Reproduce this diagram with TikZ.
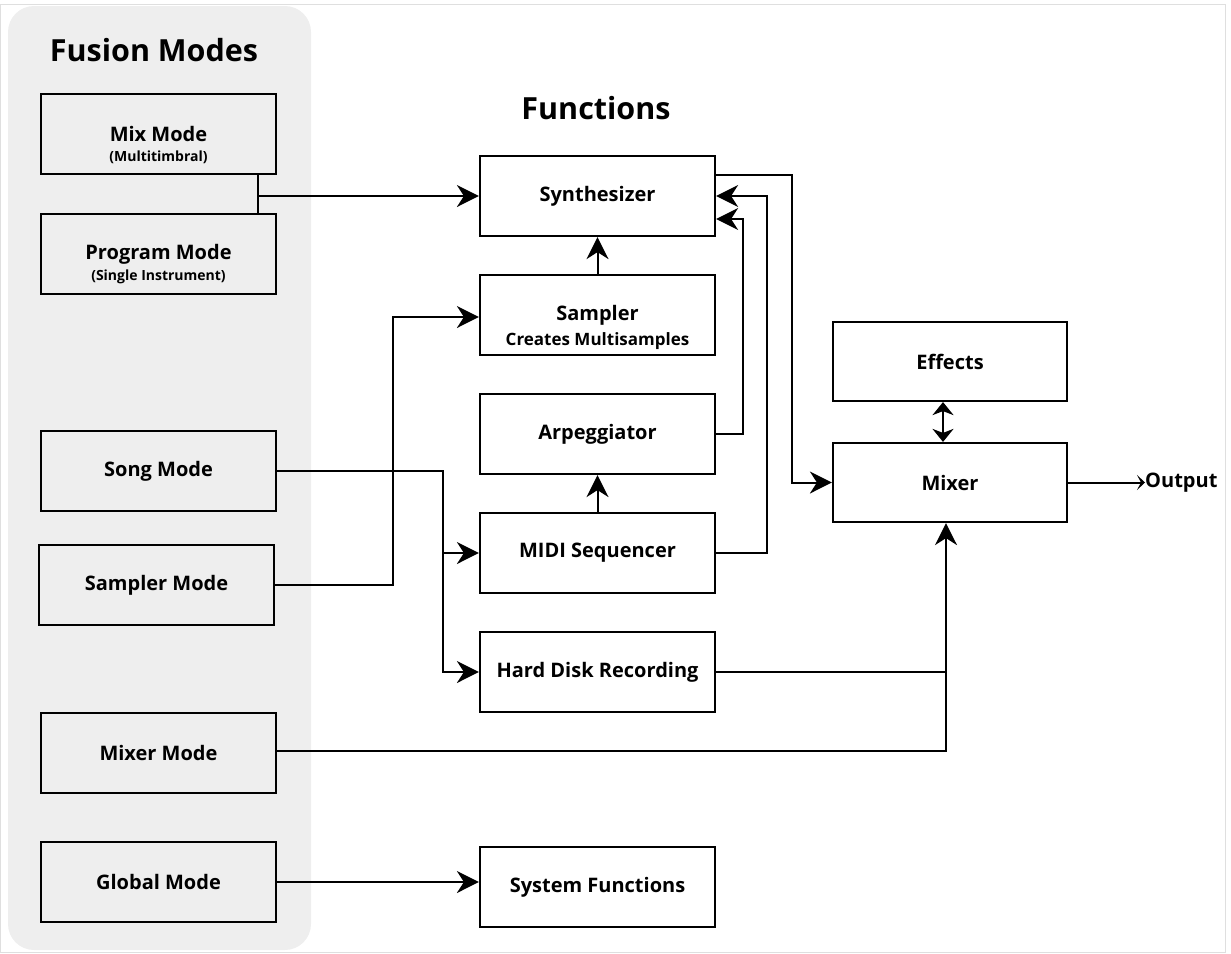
\documentclass[tikz,border=0pt]{standalone}
\usepackage{fontspec}
\setmainfont{Open Sans}
\usetikzlibrary{arrows.meta,calc}

\tikzset{
  wire/.style={line width=2pt, black},
  modebox/.style={draw, line width=2.2pt, minimum width=235pt, minimum height=80pt,
    inner sep=0pt, font=\bfseries\fontsize{20}{23}\selectfont},
  funcbox/.style={modebox, fill=white},
  subtext/.style={inner sep=0pt, font=\bfseries\fontsize{14}{16}\selectfont},
  heading/.style={inner sep=0pt, font=\bfseries\fontsize{30.5}{35}\selectfont},
  bigtip/.tip={Stealth[length=22pt, width=22pt, inset=7pt]},
  midtip/.tip={Stealth[length=13pt, width=21pt, inset=4pt]},
  smalltip/.tip={Stealth[length=8pt, width=15pt, inset=4pt]},
}

\begin{document}
\begin{tikzpicture}[x=1pt, y=-1pt]
  \useasboundingbox (0,0) rectangle (1231,953);
  % page frame and mode panel
  \draw[gray!25, line width=1pt] (0.5,4) rectangle (1225,952.5);
  \fill[gray!13, rounded corners=26pt] (8,6) rectangle (311,950);

  % headings
  \node[heading] (fusionhead) at (154,50) {Fusion Modes};
  \node[heading] (funchead) at (596,108) {Functions};

  % mode boxes
  \node[modebox] (mix) at (158.5,134) {Mix Mode};
  \node[subtext] (mixsub) at (158.5,157) {(Multitimbral)};
  \node[modebox] (prog) at (158.5,254) {Program Mode};
  \node[subtext] (progsub) at (158.5,277) {(Single Instrument)};
  \node[modebox] (song) at (158.5,471) {Song Mode};
  \node[modebox] (sampmode) at (156.5,585) {Sampler Mode};
  \node[modebox] (mixmode) at (158.5,753) {Mixer Mode};
  \node[modebox] (global) at (158.5,882) {Global Mode};

  % function boxes
  \node[funcbox] (synth) at (597.5,196) {Synthesizer};
  \node[funcbox] (sampler) at (597.5,315) {Sampler};
  \node[subtext, font=\bfseries\fontsize{17}{20}\selectfont] (samplersub) at (597.5,341) {Creates Multisamples};
  \node[funcbox] (arp) at (597.5,434) {Arpeggiator};
  \node[funcbox] (midi) at (597.5,553) {MIDI Sequencer};
  \node[funcbox] (hdr) at (597.5,672) {Hard Disk Recording};
  \node[funcbox] (sysf) at (597.5,887) {System Functions};
  \node[funcbox, minimum width=234pt, minimum height=79pt] (effects) at (950,361.5) {Effects};
  \node[funcbox, minimum width=234pt, minimum height=79pt] (mixer) at (950,482.5) {Mixer};
  \node[inner sep=0pt, anchor=west, font=\bfseries\fontsize{20}{23}\selectfont] (out) at (1145,482.5) {Output};

  % routing columns
  \coordinate (jx) at (258,0);
  \coordinate (sx) at (393,0);
  \coordinate (bx) at (443,0);
  \coordinate (ax) at (743,0);
  \coordinate (qx) at (767,0);
  \coordinate (mx) at (792,0);
  \coordinate (hx) at (946,0);

  % Mix / Program modes feed the synthesizer
  \draw[wire] (mix.south -| jx) -- (prog.north -| jx);
  \draw[wire, -bigtip] (jx |- synth.west) -- (synth.west);

  % Song mode feeds sequencer and hard disk recording
  \draw[wire, -bigtip] (song.east) -| (bx |- hdr.west) -- (hdr.west);
  \draw[wire, -bigtip] (bx |- midi.west) -- (midi.west);

  % Sampler mode feeds the sampler
  \draw[wire, -bigtip] (sampmode.east) -| ($(sx |- sampler.west)+(0,2)$) -- ([yshift=-2pt]sampler.west);

  % internal function chain
  \draw[wire, -bigtip] (sampler.north) -- (synth.south);
  \draw[wire, -bigtip] (midi.north) -- (arp.south);
  \draw[wire, -bigtip] (arp.east) -| ($(ax |- synth.east)+(0,23)$) -- ([yshift=-23pt]synth.east);
  \draw[wire, -bigtip] (midi.east) -| (qx |- synth.east) -- (synth.east);
  \draw[wire, -bigtip] ([yshift=21pt]synth.east) -| (mx |- mixer.west) -- (mixer.west);

  % mixer inputs and outputs
  \draw[wire] (hdr.east) -| ($(hx |- mixmode.east)+(0,-2)$) -- ([yshift=2pt]mixmode.east);
  \draw[wire, -bigtip] (hx |- hdr.east) -- (hx |- mixer.south);
  \draw[wire, midtip-midtip] ([xshift=-7pt]effects.south) -- ([xshift=-7pt]mixer.north);
  \draw[wire, -smalltip] (mixer.east) -- (out.west);

  % global mode
  \draw[wire, -bigtip] (global.east) -- (global.east -| sysf.west);
\end{tikzpicture}
\end{document}
